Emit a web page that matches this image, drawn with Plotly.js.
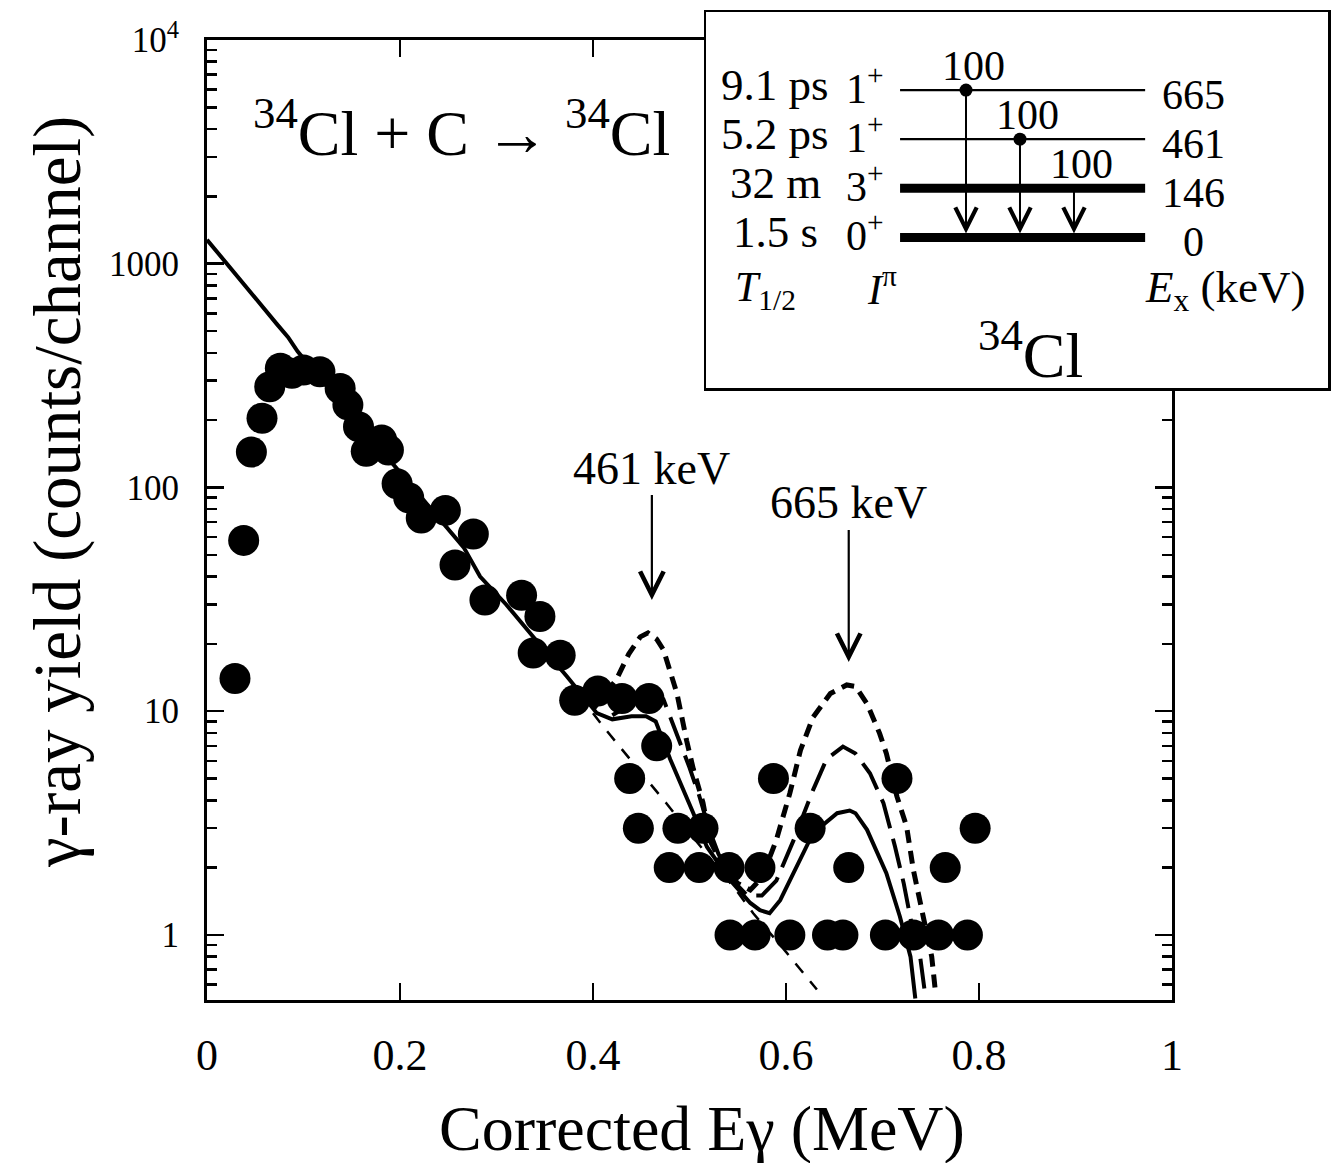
<!DOCTYPE html>
<html><head><meta charset="utf-8">
<script src="https://cdn.plot.ly/plotly-3.0.1.min.js"></script>
<style>html,body{margin:0;padding:0;background:#fff}</style>
</head><body>
<div id="chart" style="width:1335px;height:1163px"></div>
<script>
// ---------------- data ----------------
const dataE = [0.029,0.038,0.046,0.057,0.065,0.076,0.088,0.100,0.117,0.138,0.146,0.157,0.165,0.181,0.188,0.197,0.209,0.222,0.247,0.257,0.276,0.288,0.326,0.345,0.338,0.366,0.381,0.405,0.430,0.458,0.466,0.438,0.447,0.488,0.514,0.479,0.510,0.541,0.573,0.542,0.568,0.604,0.587,0.625,0.665,0.643,0.659,0.715,0.703,0.732,0.758,0.788,0.765,0.796];
const dataY = [14,58,144,204,282,341,324,335,329,277,234,187,145,163,147,104,90,73,79,45,62,31.4,33,26.5,18.2,17.8,11.2,12.3,11.4,11.4,7.0,5.0,3.0,3.0,3.0,2,2,2,2,1,1,1,5,3,2,1,1,5,1,1,1,1,2,3];

const fitTotalE = [0,0.018,0.037,0.057,0.072,0.084,0.094,0.12,0.15,0.18,0.21,0.24,0.266,0.283,0.31,0.338,0.373,0.404,0.42,0.44,0.455,0.465,0.48,0.504,0.518,0.542,0.563,0.573,0.583,0.594,0.608,0.628,0.653,0.666,0.672,0.684,0.704,0.718,0.729,0.734];
const fitTotalY = [1280,1030,820,640,540,470,405,298,210,148,104,73,54,40,30,21.5,14.3,9.8,9.2,9.5,9.5,9.0,6.1,3.5,2.48,1.76,1.39,1.29,1.25,1.43,1.89,2.85,3.5,3.6,3.5,2.95,1.89,1.21,0.80,0.52];

const fitUpperE = [0.40,0.424,0.437,0.449,0.457,0.466,0.473,0.480,0.487,0.497,0.504,0.514,0.521,0.535,0.55,0.563,0.575,0.590,0.604,0.615,0.628,0.646,0.663,0.672,0.684,0.697,0.704,0.715,0.725,0.732,0.742,0.751,0.755];
const fitUpperY = [10.2,13.8,18,21.5,22.4,21,18.8,15,12.0,7.4,5.5,3.9,2.66,2.0,1.7,1.59,1.8,2.66,4.3,6.7,9.4,12.0,13.1,12.9,10.8,7.96,6.47,4.15,3.05,1.95,1.21,0.80,0.55];

const fitMiddleE = [0.42,0.44,0.455,0.465,0.473,0.482,0.49,0.50,0.51,0.52,0.53,0.545,0.56,0.575,0.59,0.608,0.628,0.642,0.659,0.672,0.687,0.701,0.713,0.722,0.730,0.739,0.744];
const fitMiddleY = [9.6,10.8,12.2,12.4,11.3,9.0,7.4,5.6,4.2,3.0,2.3,1.75,1.5,1.5,1.75,2.66,4.44,6.1,6.95,6.47,5.28,3.88,2.48,1.70,1.13,0.80,0.55];

const fitBgE = [0.40,0.411,0.45,0.476,0.5,0.55,0.566,0.6,0.632];
const fitBgY = [9.8,8.5,5.3,3.88,2.86,1.55,1.25,0.84,0.57];

const peakLabels = ['461 keV','665 keV'];
const peakE = [0.461,0.665];
const peakTipY = [31.4,16.6];

const xTickVals = [0,0.2,0.4,0.6,0.8,1];
const xTickText = ['0','0.2','0.4','0.6','0.8','1'];
const yTickVals = [1,10,100,1000,10000];
const yTickText = ['1','10','100','1000','10<sup>4</sup>'];
const xTitle = 'Corrected E\u03b3 (MeV)';
const yTitle = '\u03b3-ray yield (counts/channel)';

// level scheme of 34Cl
const levelOrder = ['0','146','461','665'];
const levelEnergy = ['665','461','146','0'];
const levelHalfLife = ['9.1 ps','5.2 ps','32 m','1.5 s'];
const levelSpin = ['1<sup>+</sup>','1<sup>+</sup>','3<sup>+</sup>','0<sup>+</sup>'];
const gammaFrom = ['665','461','146'];
const gammaTo = ['0','0','0'];
const gammaIntensity = [100,100,100];

// ---------------- styles / layout constants ----------------
const FONT = "'Liberation Serif', 'Times New Roman', Times, serif";
const levelThick = {'665':false,'461':false,'146':true,'0':true};
const gammaDot = [true,true,false];
const lvlX0 = 0.312, lvlX1 = 0.706;
const gX0 = 0.418, gStep = 0.0868;
// paper size helpers (paper spans x 207..1328 px, y 12..1000 px)
const px2x = function(p){return (p-207)/1121;};
const px2y = function(p){return (1000-p)/988;};

const traces = [];
traces.push({x:dataE,y:dataY,mode:'markers',type:'scatter',
  marker:{size:31,color:'#000'},xaxis:'x',yaxis:'y',hoverinfo:'skip'});
traces.push({x:fitTotalE,y:fitTotalY,mode:'lines',line:{color:'#000',width:4},xaxis:'x',yaxis:'y'});
traces.push({x:fitUpperE,y:fitUpperY,mode:'lines',line:{color:'#000',width:5,dash:'13px,8px'},xaxis:'x',yaxis:'y'});
traces.push({x:fitMiddleE,y:fitMiddleY,mode:'lines',line:{color:'#000',width:4,dash:'30px,11px'},xaxis:'x',yaxis:'y'});
traces.push({x:fitBgE,y:fitBgY,mode:'lines',line:{color:'#000',width:2.5,dash:'12px,11px'},xaxis:'x',yaxis:'y'});

// inset level lines
levelEnergy.forEach(function(lv){
  traces.push({x:[lvlX0,lvlX1],y:[lv,lv],mode:'lines',xaxis:'x2',yaxis:'y2',
    line:{color:'#000',width:levelThick[lv]?9:2.2},hoverinfo:'skip'});
});
const gX = gammaFrom.map(function(_,i){return gX0+i*gStep;});
traces.push({x:gX.filter(function(_,i){return gammaDot[i];}),
  y:gammaFrom.filter(function(_,i){return gammaDot[i];}),
  mode:'markers',marker:{size:13,color:'#000'},xaxis:'x2',yaxis:'y2',hoverinfo:'skip'});

const ann = [];
function A(o){ o.xanchor = o.xanchor||'center'; o.yanchor = o.yanchor||'middle'; ann.push(o); }
// axis titles
A({xref:'paper',yref:'paper',x:px2x(702),y:px2y(1128),showarrow:false,text:xTitle,
  font:{family:FONT,size:64,color:'#000'}});
A({xref:'paper',yref:'paper',x:px2x(57),y:px2y(492),showarrow:false,text:yTitle,textangle:-90,
  font:{family:FONT,size:67,color:'#000'}});
A({xref:'paper',yref:'paper',x:px2x(461),y:px2y(128),showarrow:false,
  text:'<sup>34</sup>Cl + C \u2192 <sup>34</sup>Cl',font:{family:FONT,size:64,color:'#000'}});
const peakAy = [-132,-159];
peakLabels.forEach(function(t,i){
  A({xref:'x',yref:'y',x:peakE[i],y:Math.log10(peakTipY[i]),text:t,showarrow:true,
    arrowhead:5,arrowsize:2.1,arrowwidth:2.2,arrowcolor:'#000',ax:0,ay:peakAy[i],
    font:{family:FONT,size:46,color:'#000'}});
});
// inset annotations
const insetFont = {family:FONT,size:42,color:'#000'};
levelEnergy.forEach(function(lv,i){
  const idx = levelOrder.indexOf(lv);
  A({xref:'x2',yref:'y2',x:0.111,y:idx,yshift:5,text:levelHalfLife[i],showarrow:false,
    font:{family:FONT,size:45,color:'#000'}});
  A({xref:'x2',yref:'y2',x:0.222,y:idx,yshift:5,xanchor:'left',text:levelSpin[i],showarrow:false,font:insetFont});
  A({xref:'x2',yref:'y2',x:0.783,y:idx,yshift:-5,text:lv,showarrow:false,font:insetFont});
});
gammaFrom.forEach(function(lv,i){
  ann.push({xref:'x2',yref:'y2',axref:'x2',ayref:'y2',x:gX[i],y:levelOrder.indexOf(gammaTo[i]),
    ax:gX[i],ay:levelOrder.indexOf(lv),text:'',showarrow:true,arrowhead:5,arrowsize:2.1,
    arrowwidth:2,arrowcolor:'#000',standoff:4});
  A({xref:'x2',yref:'y2',x:gX[i]+0.012,y:levelOrder.indexOf(lv),yshift:24,
    text:String(gammaIntensity[i]),showarrow:false,font:insetFont});
});
A({xref:'x2 domain',yref:'y2 domain',x:0.095,y:0.26,showarrow:false,
  text:'<i>T</i><sub>1/2</sub>',font:insetFont});
A({xref:'x2 domain',yref:'y2 domain',x:0.283,y:0.27,showarrow:false,
  text:'<i>I</i><sup>\u03c0</sup>',font:insetFont});
A({xref:'x2 domain',yref:'y2 domain',x:0.834,y:0.26,showarrow:false,
  text:'<i>E</i><sub>x</sub> (keV)',font:{family:FONT,size:45,color:'#000'}});
A({xref:'x2 domain',yref:'y2 domain',x:0.521,y:0.10,showarrow:false,
  text:'<sup>34</sup>Cl',font:{family:FONT,size:64,color:'#000'}});

// minor tick positions for the log axis
const minorVals = [];
for (let d=-1; d<4; d++) for (let m=2; m<10; m++) minorVals.push(m*Math.pow(10,d));

const layout = {
  width:1335,height:1163,
  margin:{l:207,r:7,t:12,b:163,autoexpand:false},
  paper_bgcolor:'#fff',plot_bgcolor:'#fff',showlegend:false,
  font:{family:FONT,color:'#000'},
  xaxis:{domain:[0,965/1121],anchor:'y',range:[0,1],tickmode:'array',tickvals:xTickVals,ticktext:xTickText,
    ticks:'inside',ticklen:17,tickwidth:2.5,tickcolor:'#000',mirror:'ticks',showline:true,linewidth:3,linecolor:'#000',
    showgrid:false,zeroline:false,tickfont:{family:FONT,size:44,color:'#000'},ticklabelstandoff:14},
  yaxis:{domain:[0,960/988],anchor:'x',type:'log',range:[Math.log10(0.512),4],tickmode:'array',
    tickvals:yTickVals,ticktext:yTickText,ticks:'inside',ticklen:17,tickwidth:2.5,tickcolor:'#000',
    minor:{tickmode:'array',tickvals:minorVals,ticks:'inside',ticklen:10,tickwidth:2.5,tickcolor:'#000'},
    mirror:'ticks',showline:true,linewidth:3,linecolor:'#000',showgrid:false,zeroline:false,
    tickfont:{family:FONT,size:35,color:'#000'},ticklabelstandoff:18},
  xaxis2:{domain:[(706-207)/1121,1],anchor:'y2',range:[0,1],showline:true,mirror:true,linewidth:2.5,linecolor:'#000',
    ticks:'',showticklabels:false,showgrid:false,zeroline:false},
  yaxis2:{domain:[(1000-388)/988,1],anchor:'x2',type:'category',categoryorder:'array',categoryarray:levelOrder,
    range:[-3.067,4.591],showline:true,mirror:true,linewidth:2.5,linecolor:'#000',
    ticks:'',showticklabels:false,showgrid:false,zeroline:false},
  annotations:ann
};
Plotly.newPlot('chart',traces,layout,{staticPlot:true,displayModeBar:false});
</script>
</body></html>
